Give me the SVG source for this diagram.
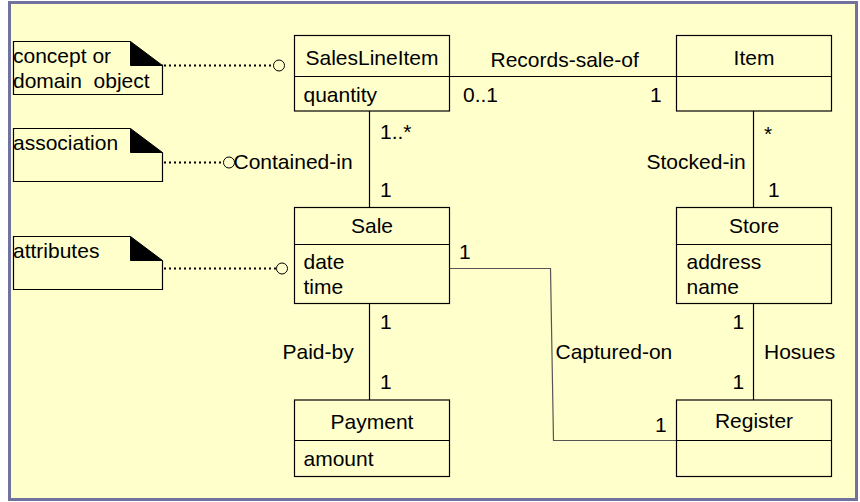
<svg xmlns="http://www.w3.org/2000/svg" width="860" height="502" viewBox="0 0 860 502">
<style>
text{font-family:"Liberation Sans",Arial,sans-serif;font-size:21px;fill:#000}
.c{text-anchor:middle}
.box{fill:none;stroke:#000;stroke-width:1.2}
.ln{fill:none;stroke:#000;stroke-width:1.2}
.dot{fill:none;stroke:#000;stroke-width:2;stroke-dasharray:2 3}
.circ{fill:#FFFFCC;stroke:#000;stroke-width:1}
.note{fill:none;stroke:#000;stroke-width:1.2}
</style>
<rect x="9.5" y="2.5" width="847" height="497" fill="#FFFFCC" stroke="#72729F" stroke-width="3"/>
<g id="connectors">
<line class="ln" x1="369.5" y1="111" x2="369.5" y2="207.5"/>
<line class="ln" x1="449.5" y1="76.5" x2="676.5" y2="76.5"/>
<line class="ln" x1="753.5" y1="111" x2="753.5" y2="207.5"/>
<line class="ln" x1="369.5" y1="303.5" x2="369.5" y2="400"/>
<line class="ln" x1="753.5" y1="303.5" x2="753.5" y2="400"/>
<polyline fill="none" stroke="#555" stroke-width="1.2" points="449.5,268.5 550.5,268.5 553.5,440.5 676.5,440.5"/>
<line class="dot" x1="164" y1="65.5" x2="273" y2="65.5"/>
<circle class="circ" cx="279" cy="65.5" r="5.5"/>
<line class="dot" x1="164" y1="162.5" x2="224" y2="162.5"/>
<circle class="circ" cx="229" cy="162.5" r="5.5"/>
<line class="dot" x1="164" y1="268.5" x2="276" y2="268.5"/>
<circle class="circ" cx="282" cy="268.5" r="5.5"/>
<text x="490.5" y="67">Records-sale-of</text>
<text x="463" y="102">0..1</text>
<text x="650" y="102">1</text>
<text x="380" y="138.5">1..*</text>
<text x="380" y="197">1</text>
<text x="233.5" y="168.5">Contained-in</text>
<text x="764" y="141">*</text>
<text x="646.5" y="168.5">Stocked-in</text>
<text x="768" y="197">1</text>
<text x="459" y="258.5">1</text>
<text x="380" y="329">1</text>
<text x="282.5" y="358.5">Paid-by</text>
<text x="380" y="388.5">1</text>
<text x="555.5" y="358.5">Captured-on</text>
<text x="655" y="432">1</text>
<text x="732.5" y="328.5">1</text>
<text x="764" y="358.5">Hosues</text>
<text x="732.5" y="388.5">1</text>
</g>
<g id="note-concept">
<polyline class="note" points="130.5,41.5 13.5,41.5 13.5,94.5 162.5,94.5 162.5,64.5"/>
<polygon points="130.5,41.5 130.5,65.5 162.5,65.5" fill="#000" stroke="#000"/>
<text x="13" y="63">concept or</text>
<text x="13" y="87.5" xml:space="preserve" style="white-space:pre">domain  object</text>
</g>
<g id="note-association">
<polyline class="note" points="130.5,128.5 13.5,128.5 13.5,181.5 162.5,181.5 162.5,152.5"/>
<polygon points="130.5,128.5 130.5,152.5 162.5,152.5" fill="#000" stroke="#000"/>
<text x="13" y="150">association</text>
</g>
<g id="note-attributes">
<polyline class="note" points="130.5,236.5 13.5,236.5 13.5,289.5 162.5,289.5 162.5,260.5"/>
<polygon points="130.5,236.5 130.5,260.5 162.5,260.5" fill="#000" stroke="#000"/>
<text x="13" y="258">attributes</text>
</g>
<g id="SalesLineItem">
<rect class="box" x="294.5" y="35.5" width="155" height="75.5"/>
<line class="box" x1="294.5" y1="76.5" x2="449.5" y2="76.5"/>
<text class="c" x="372" y="64.5">SalesLineItem</text>
<text x="303.5" y="102">quantity</text>
</g>
<g id="Item">
<rect class="box" x="676.5" y="35.5" width="155" height="75.5"/>
<line class="box" x1="676.5" y1="76.5" x2="831.5" y2="76.5"/>
<text class="c" x="754" y="64.5">Item</text>
</g>
<g id="Sale">
<rect class="box" x="294.5" y="207.5" width="155" height="96"/>
<line class="box" x1="294.5" y1="244.5" x2="449.5" y2="244.5"/>
<text class="c" x="372" y="232.5">Sale</text>
<text x="303.5" y="268.5">date</text>
<text x="303.5" y="294">time</text>
</g>
<g id="Store">
<rect class="box" x="676.5" y="207.5" width="155" height="96"/>
<line class="box" x1="676.5" y1="244.5" x2="831.5" y2="244.5"/>
<text class="c" x="754" y="233">Store</text>
<text x="686.5" y="268.5">address</text>
<text x="686.5" y="294">name</text>
</g>
<g id="Payment">
<rect class="box" x="294.5" y="400" width="155" height="76.5"/>
<line class="box" x1="294.5" y1="440.5" x2="449.5" y2="440.5"/>
<text class="c" x="372" y="428.5">Payment</text>
<text x="303.5" y="466">amount</text>
</g>
<g id="Register">
<rect class="box" x="676.5" y="400" width="155" height="76.5"/>
<line class="box" x1="676.5" y1="440.5" x2="831.5" y2="440.5"/>
<text class="c" x="754" y="428">Register</text>
</g>
</svg>
